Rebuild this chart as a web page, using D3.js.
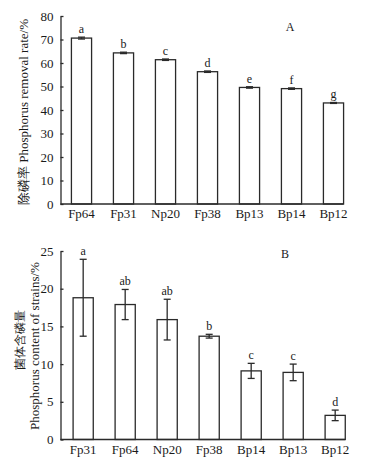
<!DOCTYPE html>
<html><head><meta charset="utf-8">
<script src="https://cdn.jsdelivr.net/npm/d3@7"></script>
<style>
html,body{margin:0;padding:0;background:#fff;}
svg{display:block;}
text{font-family:"Liberation Serif","Times New Roman",serif;fill:#1a1a1a;}
</style></head>
<body>
<svg id="c" width="382" height="464"></svg>
<script>
const catsA = ["Fp64","Fp31","Np20","Fp38","Bp13","Bp14","Bp12"];
const valsA = [70.6, 64.3, 61.4, 56.3, 49.6, 49.1, 43.0];
const errA = [0.4, 0.3, 0.3, 0.3, 0.3, 0.3, 0.2];
const lettersA = ["a","b","c","d","e","f","g"];
const ticksA = [0,10,20,30,40,50,60,70,80];

const catsB = ["Fp31","Fp64","Np20","Fp38","Bp14","Bp13","Bp12"];
const valsB = [18.8, 17.9, 15.9, 13.7, 9.1, 8.9, 3.2];
const errB = [5.1, 2.0, 2.7, 0.25, 1.0, 1.1, 0.7];
const lettersB = ["a","ab","ab","b","c","c","d"];
const ticksB = [0,5,10,15,20,25];

const svg = d3.select("#c");
const stroke = "#2a2a2a";

function panel(o) {
  const g = svg.append("g");
  const x0 = 60.5;
  const pi = 0.52, po = o.po;
  const step = 42;
  const x = d3.scaleBand().domain(o.cats)
    .range([x0, x0 + step * (o.cats.length - pi + 2 * po)])
    .paddingInner(pi).paddingOuter(po);
  const y = d3.scaleLinear().domain([0, o.max]).range([o.y0, o.y1]);

  // bars
  g.selectAll("rect.bar").data(o.vals).enter().append("rect")
    .attr("x", (d, i) => x(o.cats[i]))
    .attr("y", d => y(d))
    .attr("width", x.bandwidth())
    .attr("height", d => y(0) - y(d))
    .attr("fill", "#fff").attr("stroke", stroke).attr("stroke-width", 1.3);

  // error bars
  const cap = 3.5;
  o.vals.forEach((v, i) => {
    const cx = x(o.cats[i]) + x.bandwidth() / 2;
    const e = o.err[i];
    const eb = g.append("g").attr("stroke", stroke).attr("stroke-width", 1.3);
    eb.append("line").attr("x1", cx).attr("x2", cx).attr("y1", y(v + e)).attr("y2", y(v - e));
    eb.append("line").attr("x1", cx - cap).attr("x2", cx + cap).attr("y1", y(v + e)).attr("y2", y(v + e));
    eb.append("line").attr("x1", cx - cap).attr("x2", cx + cap).attr("y1", y(v - e)).attr("y2", y(v - e));
    g.append("text").attr("x", cx).attr("y", y(v + e) - o.lgap)
      .attr("text-anchor", "middle").attr("font-size", 12).text(o.letters[i]);
  });

  // y axis
  const ya = g.append("g").attr("transform", `translate(${x0},0)`)
    .call(d3.axisLeft(y).tickValues(o.ticks).tickSizeInner(-3).tickSizeOuter(0).tickPadding(7).tickFormat(d3.format("d")));
  ya.selectAll("path,line").attr("stroke", stroke).attr("stroke-width", 1.3);
  ya.selectAll("text").attr("font-size", 13).attr("fill", "#1a1a1a")
    .style("font-family", '"Liberation Serif","Times New Roman",serif');

  // x axis
  const xa = g.append("g").attr("transform", `translate(0,${o.y0})`)
    .call(d3.axisBottom(x).tickSize(0).tickPadding(5));
  xa.select(".domain").remove();
  xa.selectAll("text").attr("font-size", 13).attr("fill", "#1a1a1a")
    .style("font-family", '"Liberation Serif","Times New Roman",serif');
  const last = o.cats[o.cats.length - 1];
  g.append("line").attr("x1", x0).attr("x2", x(last) + x.bandwidth())
    .attr("y1", o.y0).attr("y2", o.y0).attr("stroke", stroke).attr("stroke-width", 1.3);

  // panel letter
  g.append("text").attr("x", o.px).attr("y", o.py).attr("text-anchor", "middle")
    .attr("font-size", 12).text(o.panel);
  return g;
}

panel({cats: catsA, vals: valsA, err: errA, letters: lettersA, ticks: ticksA,
  max: 80, y0: 204, y1: 16, po: 0.26, lgap: 4, panel: "A", px: 290, py: 31});
panel({cats: catsB, vals: valsB, err: errB, letters: lettersB, ticks: ticksB,
  max: 25, y0: 439.5, y1: 251, po: 0.3, lgap: 4, panel: "B", px: 285, py: 258});

// y axis titles
svg.append("text").attr("transform", "translate(28,112) rotate(-90)")
  .attr("text-anchor", "middle").attr("font-size", 13)
  .text("除磷率 Phosphorus removal rate/%");
svg.append("text").attr("transform", "translate(24,340) rotate(-90)")
  .attr("text-anchor", "middle").attr("font-size", 12)
  .text("菌体含磷量");
svg.append("text").attr("transform", "translate(39,346) rotate(-90)")
  .attr("text-anchor", "middle").attr("font-size", 13)
  .text("Phosphorus content of strains/%");
</script>
</body></html>
